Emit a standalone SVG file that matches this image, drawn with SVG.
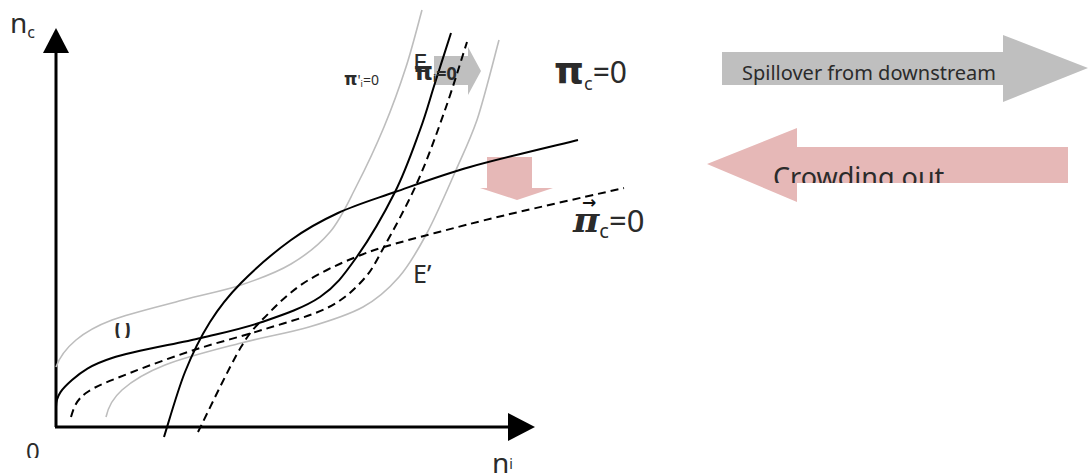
<svg xmlns="http://www.w3.org/2000/svg" width="1089" height="473" viewBox="0 0 1089 473">
<style>
.sans{font-family:"Noto Sans","Open Sans","DejaVu Sans",sans-serif;fill:#2b2b2b}
.blk{fill:none;stroke:#000;stroke-width:2}
.dash{fill:none;stroke:#000;stroke-width:2;stroke-dasharray:8 5}
.gry{fill:none;stroke:#bdbdbd;stroke-width:1.6}
.axis{fill:none;stroke:#000;stroke-width:3}
</style>
<defs>
<clipPath id="clipCrowd"><rect x="700" y="120" width="389" height="63"/></clipPath>
<clipPath id="clipO"><rect x="100" y="323" width="50" height="15"/></clipPath>
<clipPath id="clip0"><rect x="15" y="435" width="50" height="23"/></clipPath>
</defs>
<rect width="1089" height="473" fill="#fff"/>

<g id="spillover-arrow">
<polygon points="722,52 1003,52 1003,35 1088,68 1003,102 1003,85 722,85" fill="#bfbfbf"/>
<text class="sans" x="742" y="80" font-size="20" fill="#262626">Spillover from downstream</text>
</g>

<g id="crowding-arrow">
<polygon points="1068,147 797,147 797,128 707,164 797,202 797,183 1068,183" fill="#e6b8b7"/>
<text class="sans" x="773" y="187" font-size="27" clip-path="url(#clipCrowd)" fill="#1a1a1a">Crowding out</text>
</g>

<g id="shift-right-arrow">
<polygon points="434,56 468,56 468,47 481,71 468,95 468,85 434,85" fill="#bfbfbf"/>
</g>

<g id="shift-down-arrow">
<polygon points="487,157 532,157 532,188 553,188 517,200 480,188 487,188" fill="#e6b8b7"/>
</g>

<g id="connectors">
<g id="axes">
<line class="axis" x1="56" y1="427" x2="56" y2="52"/>
<polygon points="56,28 43,53 69,53" fill="#000"/>
<line class="axis" x1="55" y1="427" x2="510" y2="427"/>
<polygon points="535,427 508,413 508,441" fill="#000"/>
</g>
<path id="gray-upper" class="gry" d="M56,367 C60,356 66.7,347.8 76,340 C85.3,332.2 94.2,326.7 112,320 C129.8,313.3 161.5,305.8 183,300 C204.5,294.2 223,291 241,285 C259,279 276.2,272.8 291,264 C305.8,255.2 319.2,244.8 330,232 C340.8,219.2 347,204.5 356,187 C365,169.5 375.7,147 384,127 C392.3,107 399.7,86.5 406,67 C412.3,47.5 419.3,19.5 422,10"/>
<path id="gray-lower" class="gry" d="M106,417 C108,408 112.2,398.7 122,390 C131.8,381.3 145.2,372.8 165,365 C184.8,357.2 217,349.3 241,343 C265,336.7 288.7,333 309,327 C329.3,321 348,315.3 363,307 C378,298.7 388.3,289.3 399,277 C409.7,264.7 417.5,250.8 427,233 C436.5,215.2 447.7,188.8 456,170 C464.3,151.2 469.7,140.7 477,120 C484.3,98.3 496,50.7 499,40"/>
<path id="pi-i" class="blk" d="M56,407 C56,395 62.7,388.2 72,380 C81.3,371.8 90.5,365 112,358 C133.5,351 176,344 201,338 C226,332 242.2,328.8 262,322 C281.8,315.2 304.3,307.7 320,297 C335.7,286.3 343.5,275.5 356,258 C368.5,240.5 384.3,213.3 395,192 C405.7,170.7 413.3,148.2 420,130 C426.7,111.8 429.8,99.2 435,83 C440.2,66.8 448.3,41.3 451,33"/>
<path id="pi-c" class="blk" d="M164,437 C167.5,426.2 177.3,391.2 185,372 C192.7,352.8 200.7,336.8 210,322 C219.3,307.2 227.5,296.7 241,283 C254.5,269.3 274.8,251.7 291,240 C307.2,228.3 320.7,221 338,213 C355.3,205 373,199.7 395,192 C417,184.3 439.5,175.7 470,167 C500.5,158.3 560,144.5 578,140"/>
<path id="pi-i-new" class="dash" d="M71,417 C74,407 76.2,400.3 86,393 C95.8,385.7 112,380.2 130,373 C148,365.8 172,357.2 194,350 C216,342.8 239.8,337 262,330 C284.2,323 310.2,316.3 327,308 C343.8,299.7 353.5,290.2 363,280 C372.5,269.8 375,263.2 384,247 C393,230.8 406.8,205.8 417,183 C427.2,160.2 436.7,133.5 445,110 C453.3,86.5 463.3,53.3 467,42"/>
<path id="pi-c-new" class="dash" d="M198,432 C205.2,417.8 229.2,366.8 241,347 C252.8,327.2 259.5,323 269,313 C278.5,303 288.3,294.2 298,287 C307.7,279.8 317.3,275 327,270 C336.7,265 346.5,260.8 356,257 C365.5,253.2 370.8,251 384,247 C397.2,243 414.7,238.3 435,233 C455.3,227.7 474.5,222.5 506,215 C537.5,207.5 604.3,192.5 624,188"/>
</g>

<g id="labels">
<text class="sans" x="10" y="33" font-size="28" fill="#333">n<tspan font-size="16" dy="5">c</tspan></text>
<text class="sans" x="492" y="473" font-size="28" fill="#333">n<tspan font-size="14" dy="-4">i</tspan></text>
<text class="sans" x="26" y="460" font-size="24" fill="#333" clip-path="url(#clip0)">0</text>
<text class="sans" x="114" y="341" font-size="30" fill="#333" clip-path="url(#clipO)">0</text>
<text class="sans" x="413" y="283" font-size="25" fill="#333">E’</text>
<text class="sans" x="344" y="85" font-size="14" fill="#222"><tspan font-family="DejaVu Sans" font-weight="bold" font-size="17">π</tspan>'<tspan font-size="9" dy="2">i</tspan><tspan dy="-2">=0</tspan></text>
<text class="sans" x="413" y="72" font-size="26" fill="#444">E</text>
<text class="sans" x="414" y="80" font-size="18" font-weight="bold" fill="#111"><tspan font-family="DejaVu Sans" font-size="24">π</tspan><tspan font-size="11" dy="2">i</tspan><tspan dy="-2">=0</tspan></text>
<text class="sans" x="554" y="83" font-size="30" fill="#111"><tspan font-family="DejaVu Sans" font-weight="bold" font-size="38">π</tspan><tspan font-size="18" dy="7">c</tspan><tspan dy="-7">=0</tspan></text>
<text x="582" y="208" font-family="DejaVu Sans" font-weight="bold" font-size="17" fill="#111">→</text>
<text class="sans" x="573" y="232" font-size="31" fill="#111"><tspan font-family="DejaVu Serif" font-weight="bold" font-style="italic" font-size="36">π</tspan><tspan font-size="20" dy="6">c</tspan><tspan dy="-6">=0</tspan></text>
</g>
</svg>
